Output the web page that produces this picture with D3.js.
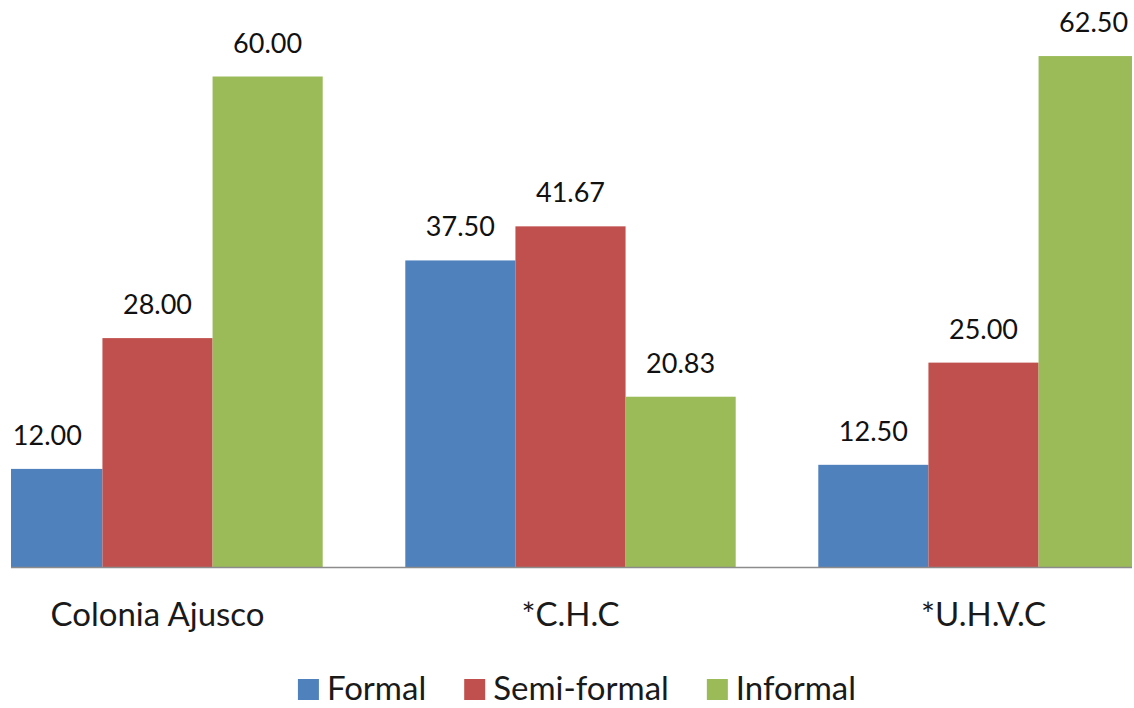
<!DOCTYPE html>
<html>
<head>
<meta charset="utf-8">
<script src="https://cdn.jsdelivr.net/npm/d3@7"></script>
<style>
  html, body { margin: 0; padding: 0; background: #fff; }
  svg { display: block; }
  text { font-family: Lato, "Open Sans", sans-serif; }
</style>
</head>
<body>
<svg id="chart" width="1134" height="708"></svg>
<script>
// Housing type share (%) by neighbourhood
const categories = ["Colonia Ajusco", "*C.H.C", "*U.H.V.C"];
const seriesNames = ["Formal", "Semi-formal", "Informal"];
const formal     = [12.00, 37.50, 12.50];
const semiFormal = [28.00, 41.67, 25.00];
const informal   = [60.00, 20.83, 62.50];
const colors = ["#4F81BD", "#C0504D", "#9BBB59"];

const seriesValues = [formal, semiFormal, informal];
const rows = categories.map((c, i) => ({
  category: c,
  values: seriesNames.map((s, k) => ({ series: s, value: seriesValues[k][i], k }))
}));

const svg = d3.select("#chart");
const plot = { left: 11, right: 1132, baseline: 567 };

const x0 = d3.scaleBand()
  .domain(categories)
  .range([-49, 1190])
  .paddingInner(0.2)
  .paddingOuter(0.1);

const x1 = d3.scaleBand()
  .domain(seriesNames)
  .range([0, x0.bandwidth()]);

const y = d3.scaleLinear()
  .domain([0, 60])
  .range([plot.baseline, 76.5]);

const color = d3.scaleOrdinal().domain(seriesNames).range(colors);

svg.append("defs").append("clipPath").attr("id", "plot-clip")
  .append("rect")
  .attr("x", plot.left).attr("y", 0)
  .attr("width", plot.right - plot.left).attr("height", plot.baseline);

const groups = svg.append("g").attr("clip-path", "url(#plot-clip)")
  .selectAll("g.group")
  .data(rows)
  .join("g")
  .attr("class", "group")
  .attr("transform", d => `translate(${x0(d.category)},0)`);

groups.selectAll("rect")
  .data(d => d.values)
  .join("rect")
  .attr("x", d => x1(d.series))
  .attr("y", d => y(d.value))
  .attr("width", x1.bandwidth())
  .attr("height", d => y(0) - y(d.value))
  .attr("fill", d => color(d.series));

// value labels above each bar
svg.append("g").selectAll("g")
  .data(rows)
  .join("g")
  .attr("transform", d => `translate(${x0(d.category)},0)`)
  .selectAll("text")
  .data(d => d.values)
  .join("text")
  .attr("x", d => x1(d.series) + x1.bandwidth() / 2)
  .attr("y", d => y(d.value) - 24)
  .attr("text-anchor", "middle")
  .attr("font-size", 27)
  .attr("fill", "#111")
  .text(d => d3.format(".2f")(d.value));

// category axis
const xAxis = d3.axisBottom(x0).tickSize(0).tickPadding(0);
const axisG = svg.append("g")
  .attr("transform", `translate(0,${plot.baseline})`)
  .call(xAxis);
axisG.select(".domain").remove();
axisG.append("line")
  .attr("x1", plot.left).attr("x2", plot.right)
  .attr("y1", 0.5).attr("y2", 0.5)
  .attr("stroke", "#8c8c8c").attr("stroke-width", 1.5);
axisG.selectAll(".tick text")
  .attr("dy", null)
  .attr("y", 59)
  .attr("font-family", "Lato, 'Open Sans', sans-serif")
  .attr("font-size", 33)
  .attr("fill", "#1a1a1a");

// legend
const legend = svg.append("g").attr("class", "legend");
const items = legend.selectAll("g")
  .data(seriesNames)
  .join("g");
items.append("rect")
  .attr("width", 21).attr("height", 21)
  .attr("y", 679)
  .attr("fill", d => color(d));
items.append("text")
  .attr("x", 29)
  .attr("y", 700)
  .attr("font-size", 33)
  .attr("fill", "#1a1a1a")
  .text(d => d);
let cursor = 0;
const gap = 38;
items.each(function () {
  const g = d3.select(this);
  g.attr("transform", `translate(${cursor},0)`);
  cursor += 29 + g.select("text").node().getComputedTextLength() + gap;
});
const legendWidth = cursor - gap;
legend.attr("transform", `translate(${577 - legendWidth / 2},0)`);
</script>
</body>
</html>
